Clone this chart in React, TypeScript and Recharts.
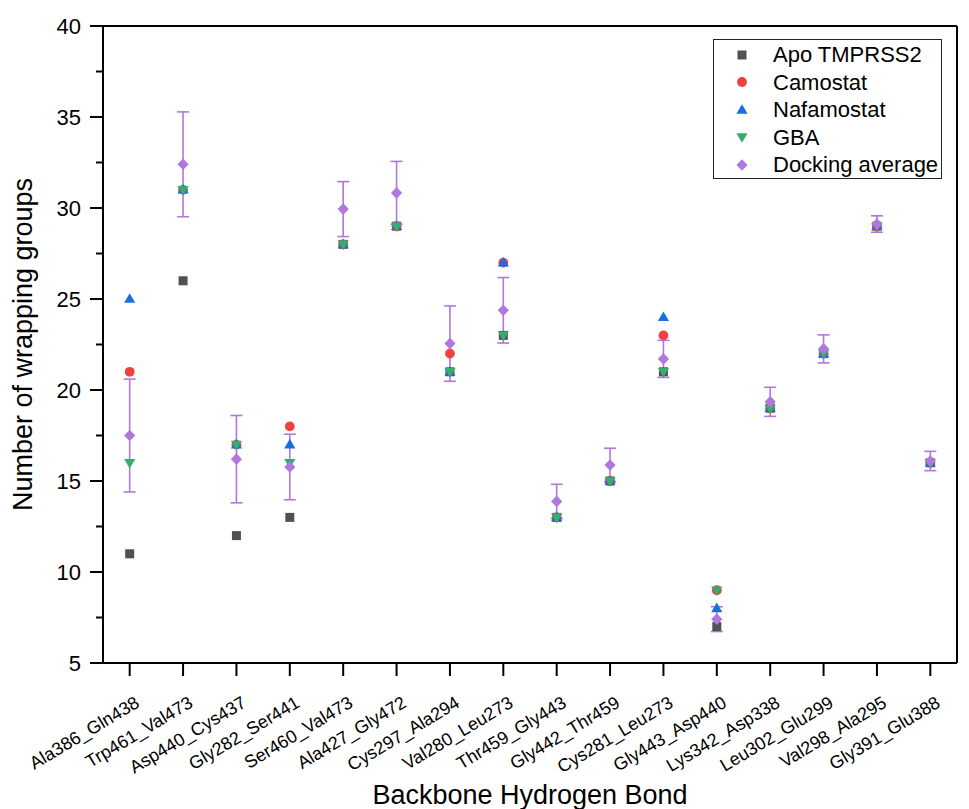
import React from 'react';
import { ScatterChart, Scatter, XAxis, YAxis, ErrorBar, Label } from 'recharts';

// Backbone hydrogen bonds (x categories)
const bondLabels = [
  'Ala386_Gln438',
  'Trp461_Val473',
  'Asp440_Cys437',
  'Gly282_Ser441',
  'Ser460_Val473',
  'Ala427_Gly472',
  'Cys297_Ala294',
  'Val280_Leu273',
  'Thr459_Gly443',
  'Gly442_Thr459',
  'Cys281_Leu273',
  'Gly443_Asp440',
  'Lys342_Asp338',
  'Leu302_Glu299',
  'Val298_Ala295',
  'Gly391_Glu388',
];

// Number of wrapping groups per system
const apoValues = [11, 26, 12, 13, 28, 29, 21, 23, 13, 15, 21, 7, 19, 22, 29, 16];
const camostatValues = [21, 31, 17, 18, 28, 29, 22, 27, 13, 15, 23, 9, 19, 22, 29, 16];
const nafamostatValues = [25, 31, 17, 17, 28, 29, 21, 27, 13, 15, 24, 8, 19, 22, 29, 16];
const gbaValues = [16, 31, 17, 16, 28, 29, 21, 23, 13, 15, 21, 9, 19, 22, 29, 16];
const dockingMean = [17.5, 32.4, 16.2, 15.77, 29.94, 30.83, 22.55, 24.38, 13.88, 15.88, 21.71, 7.41, 19.35, 22.26, 29.12, 16.1];
const dockingSd = [3.1, 2.88, 2.4, 1.8, 1.51, 1.73, 2.07, 1.8, 0.94, 0.92, 1.02, 0.68, 0.8, 0.77, 0.45, 0.53];

const yTicks = [5, 7.5, 10, 12.5, 15, 17.5, 20, 22.5, 25, 27.5, 30, 32.5, 35, 37.5, 40];
const xTicks = bondLabels.map((_, i) => i);

const FONT = '"Liberation Sans", Arial, sans-serif';
const COLORS = {
  apo: '#515151',
  camostat: '#F14040',
  nafamostat: '#1A6FDF',
  gba: '#37AD6B',
  docking: '#B177DE',
};

const toPoints = (values: number[], errors?: number[]) =>
  values.map((y, i) => ({ x: i, y, err: errors ? errors[i] : 0 }));

const apoData = toPoints(apoValues);
const camostatData = toPoints(camostatValues);
const nafamostatData = toPoints(nafamostatValues);
const gbaData = toPoints(gbaValues);
const dockingData = toPoints(dockingMean, dockingSd);

// Marker shapes
const SquareMark = ({ cx, cy, color }: any) => (
  <rect x={cx - 4.5} y={cy - 4.5} width={9} height={9} fill={color} />
);
const CircleMark = ({ cx, cy, color }: any) => <circle cx={cx} cy={cy} r={4.9} fill={color} />;
const TriUpMark = ({ cx, cy, color }: any) => (
  <polygon points={`${cx},${cy - 5.8} ${cx + 5.6},${cy + 3.8} ${cx - 5.6},${cy + 3.8}`} fill={color} />
);
const TriDownMark = ({ cx, cy, color }: any) => (
  <polygon points={`${cx},${cy + 5.8} ${cx + 5.6},${cy - 3.8} ${cx - 5.6},${cy - 3.8}`} fill={color} />
);
const DiamondMark = ({ cx, cy, color }: any) => (
  <polygon points={`${cx},${cy - 5.8} ${cx + 5.6},${cy} ${cx},${cy + 5.8} ${cx - 5.6},${cy}`} fill={color} />
);

const legendItems = [
  { name: 'Apo TMPRSS2', Mark: SquareMark, color: COLORS.apo },
  { name: 'Camostat', Mark: CircleMark, color: COLORS.camostat },
  { name: 'Nafamostat', Mark: TriUpMark, color: COLORS.nafamostat },
  { name: 'GBA', Mark: TriDownMark, color: COLORS.gba },
  { name: 'Docking average', Mark: DiamondMark, color: COLORS.docking },
];

const LeftTick = (props: any) => {
  const { x, y, payload } = props;
  const major = payload.value % 5 === 0;
  return (
    <g>
      <line x1={x} x2={x - (major ? 13 : 7)} y1={y} y2={y} stroke="#000" strokeWidth={2} />
      {major && (
        <text x={x - 22} y={y} dy="0.355em" textAnchor="end" fontSize={22} fontFamily={FONT} fill="#000">
          {payload.value}
        </text>
      )}
    </g>
  );
};

const BottomTick = (props: any) => {
  const { x, y, payload } = props;
  const px = x + 11;
  const py = y + 28;
  return (
    <text
      x={px}
      y={py}
      textAnchor="end"
      transform={`rotate(-31 ${px} ${py})`}
      fontSize={18}
      fontFamily={FONT}
      fill="#000"
    >
      {bondLabels[payload.value]}
    </text>
  );
};

const XTitle = (props: any) => {
  const vb = props.viewBox || { x: 103, width: 854 };
  const cx = vb.x + vb.width / 2;
  return (
    <text x={cx} y={804} textAnchor="middle" fontSize={27} fontFamily={FONT} fill="#000">
      Backbone Hydrogen Bond
    </text>
  );
};

const YTitle = (props: any) => {
  const vb = props.viewBox || { y: 26, height: 637 };
  const cy = vb.y + vb.height / 2;
  const bx = 32;
  return (
    <text
      x={bx}
      y={cy}
      textAnchor="middle"
      transform={`rotate(-90 ${bx} ${cy})`}
      fontSize={27}
      fontFamily={FONT}
      fill="#000"
    >
      Number of wrapping groups
    </text>
  );
};

const axisLine = { stroke: '#000', strokeWidth: 2 };
const tickLine = { stroke: '#000', strokeWidth: 2 };

export default function App() {
  return (
    <div style={{ position: 'absolute', left: 0, top: 0, width: 969, height: 809, background: '#fff' }}>
      <ScatterChart width={969} height={809} margin={{ top: 0, right: 0, bottom: 0, left: 0 }}>
        <XAxis
          xAxisId="bottom"
          dataKey="x"
          type="number"
          orientation="bottom"
          domain={[-0.5, 15.5]}
          allowDataOverflow
          ticks={xTicks}
          interval={0}
          height={146}
          tickSize={13}
          axisLine={axisLine}
          tickLine={tickLine}
          tick={<BottomTick />}
        >
          <Label content={<XTitle />} />
        </XAxis>
        <XAxis
          xAxisId="top"
          dataKey="x"
          type="number"
          orientation="top"
          domain={[-0.5, 15.5]}
          allowDataOverflow
          ticks={xTicks}
          interval={0}
          height={26}
          tickSize={13}
          axisLine={axisLine}
          tickLine={tickLine}
          tick={false}
        />
        <YAxis
          yAxisId="left"
          dataKey="y"
          type="number"
          orientation="left"
          domain={[5, 40]}
          allowDataOverflow
          ticks={yTicks}
          interval={0}
          width={103}
          tickSize={0}
          tickMargin={0}
          axisLine={axisLine}
          tickLine={false}
          tick={<LeftTick />}
        >
          <Label content={<YTitle />} />
        </YAxis>
        <YAxis
          yAxisId="right"
          dataKey="y"
          type="number"
          orientation="right"
          domain={[5, 40]}
          allowDataOverflow
          ticks={yTicks}
          interval={0}
          width={12}
          tickSize={7}
          axisLine={axisLine}
          tickLine={tickLine}
          tick={false}
        />
        <Scatter
          name="Apo TMPRSS2"
          data={apoData}
          xAxisId="bottom"
          yAxisId="left"
          isAnimationActive={false}
          shape={(p: any) => <SquareMark cx={p.cx} cy={p.cy} color={COLORS.apo} />}
        />
        <Scatter
          name="Camostat"
          data={camostatData}
          xAxisId="bottom"
          yAxisId="left"
          isAnimationActive={false}
          shape={(p: any) => <CircleMark cx={p.cx} cy={p.cy} color={COLORS.camostat} />}
        />
        <Scatter
          name="Nafamostat"
          data={nafamostatData}
          xAxisId="bottom"
          yAxisId="left"
          isAnimationActive={false}
          shape={(p: any) => <TriUpMark cx={p.cx} cy={p.cy} color={COLORS.nafamostat} />}
        />
        <Scatter
          name="GBA"
          data={gbaData}
          xAxisId="bottom"
          yAxisId="left"
          isAnimationActive={false}
          shape={(p: any) => <TriDownMark cx={p.cx} cy={p.cy} color={COLORS.gba} />}
        />
        <Scatter
          name="Docking average"
          data={dockingData}
          xAxisId="bottom"
          yAxisId="left"
          isAnimationActive={false}
          shape={(p: any) => <DiamondMark cx={p.cx} cy={p.cy} color={COLORS.docking} />}
        >
          <ErrorBar
            dataKey="err"
            direction="y"
            width={6}
            stroke={COLORS.docking}
            strokeWidth={1.6}
            isAnimationActive={false}
          />
        </Scatter>
      </ScatterChart>
      <div
        style={{
          position: 'absolute',
          left: 713,
          top: 39,
          width: 229,
          height: 140,
          boxSizing: 'border-box',
          border: '1px solid #222',
          background: '#fff',
          fontFamily: FONT,
          fontSize: 22,
          color: '#000',
        }}
      >
        {legendItems.map((item, i) => (
          <div
            key={item.name}
            style={{
              position: 'absolute',
              left: 0,
              top: 1 + i * 27.5,
              height: 27.5,
              width: '100%',
              display: 'flex',
              alignItems: 'center',
            }}
          >
            <svg width={20} height={20} style={{ position: 'absolute', left: 18 }}>
              <item.Mark cx={10} cy={10} color={item.color} />
            </svg>
            <span style={{ position: 'absolute', left: 59, lineHeight: '27.5px', whiteSpace: 'nowrap' }}>
              {item.name}
            </span>
          </div>
        ))}
      </div>
    </div>
  );
}
